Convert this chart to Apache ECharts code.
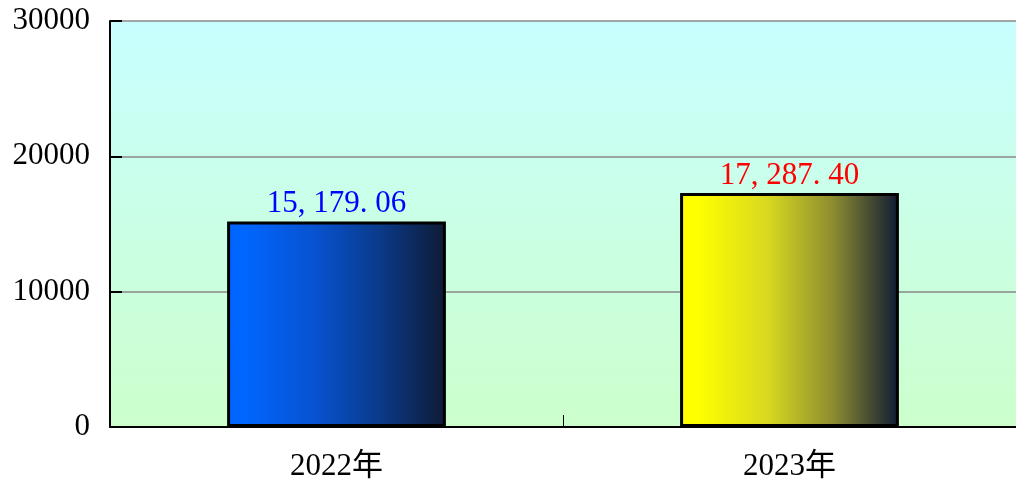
<!DOCTYPE html>
<html>
<head>
<meta charset="utf-8">
<style>html,body{margin:0;padding:0;background:#fff;}#c{width:1016px;height:483px;}</style>
<script src="https://cdn.jsdelivr.net/npm/echarts@6/dist/echarts.min.js"></script>
</head>
<body>
<div id="c"></div>
<script>
const categories = ['2022年', '2023年'];
const values = [15179.06, 17287.40];
const yTicks = [0, 10000, 20000, 30000];

const serif = '"Liberation Serif", "Noto Sans CJK SC", serif';
const chart = echarts.init(document.getElementById('c'));
function grad(start, mid1, mid2) {
  return new echarts.graphic.LinearGradient(0, 0, 1, 0, [
    {offset: 0, color: start},
    {offset: 0.08, color: start},
    {offset: 0.4, color: mid1},
    {offset: 0.7, color: mid2},
    {offset: 1, color: '#0f1a33'}
  ]);
}
const barColors = [grad('#0066ff', '#0852d0', '#0a3a8a'), grad('#ffff00', '#d8d820', '#8c8c30')];
const labelColors = ['#0000ff', '#ff0000'];
function fmt(v) {
  const s = v.toFixed(2);
  const parts = s.split('.');
  const int = parts[0].replace(/\B(?=(\d{3})+(?!\d))/g, ', ');
  return int + '. ' + parts[1];
}
chart.setOption({
  animation: false,
  grid: {
    left: 110, right: -4, top: 21, bottom: 56,
    show: true, borderWidth: 0,
    backgroundColor: new echarts.graphic.LinearGradient(0, 0, 0, 1, [
      {offset: 0, color: '#c8ffff'},
      {offset: 1, color: '#ccffcc'}
    ])
  },
  xAxis: {
    type: 'category',
    data: categories,
    axisLine: {lineStyle: {color: '#000', width: 2}},
    axisTick: {show: true, inside: true, length: 12, lineStyle: {color: '#000', width: 1}},
    axisLabel: {color: '#000', fontSize: 31, fontFamily: serif, margin: 24}
  },
  yAxis: {
    type: 'value',
    min: yTicks[0], max: yTicks[yTicks.length - 1], interval: 10000,
    axisLine: {show: true, lineStyle: {color: '#000', width: 2}},
    axisTick: {show: true, inside: true, length: 12, lineStyle: {color: '#000', width: 2}},
    splitLine: {lineStyle: {color: '#888', width: 1.5}},
    axisLabel: {color: '#000', fontSize: 31, fontFamily: serif, margin: 20, formatter: v => String(v)}
  },
  series: [{
    type: 'bar',
    barWidth: '48.3%',
    data: values.map((v, i) => ({
      value: v,
      itemStyle: {color: barColors[i], borderColor: '#000', borderWidth: 3},
      label: {color: labelColors[i]}
    })),
    label: {
      show: true, position: 'top', distance: 2,
      fontSize: 31, fontFamily: serif,
      formatter: p => fmt(p.value)
    }
  }]
});
</script>
</body>
</html>
